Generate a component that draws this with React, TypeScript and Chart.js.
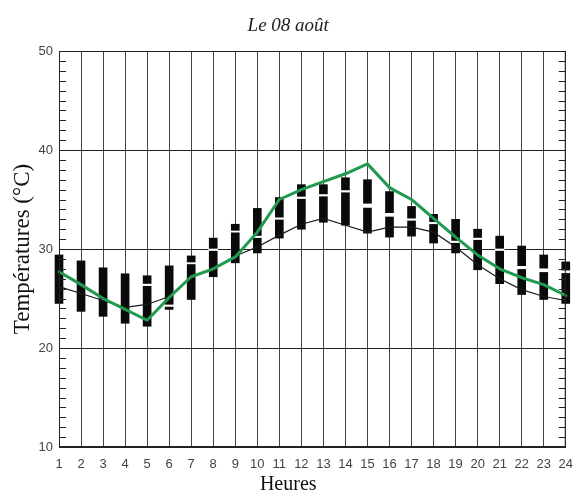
import { useEffect, useRef } from 'react';
import { Chart, registerables } from 'chart.js';

Chart.register(...registerables);

const hours = ['1', '2', '3', '4', '5', '6', '7', '8', '9', '10', '11', '12', '13', '14', '15', '16', '17', '18', '19', '20', '21', '22', '23', '24'];
const ensembleMin = [24.5, 23.7, 23.2, 22.5, 22.2, 23.9, 24.9, 27.2, 28.6, 29.6, 31.1, 32.0, 32.7, 32.4, 31.6, 31.2, 31.3, 30.6, 29.6, 27.9, 26.5, 25.4, 24.9, 24.5];
const ensembleMax = [29.4, 28.8, 28.1, 27.5, 27.3, 28.3, 29.3, 31.1, 32.5, 34.1, 35.2, 36.5, 36.5, 37.2, 37.0, 35.8, 34.3, 33.5, 33.0, 32.0, 31.3, 30.3, 29.4, 28.7];
const gapLow = [null, null, null, null, 26.3, 24.2, 28.5, 29.85, 31.7, 31.15, 33.0, 35.1, 35.35, 35.75, 34.2, 33.3, 32.9, 32.55, 30.65, 30.95, 29.85, 28.0, 27.7, 27.6];
const gapHigh = [null, null, null, null, 26.45, 24.35, 28.62, 30.0, 31.82, 31.3, 33.15, 35.25, 35.5, 35.9, 34.55, 33.6, 33.05, 32.7, 30.8, 31.1, 30.0, 28.25, 28.0, 27.8];
const observed = [26.2, 25.5, 24.8, 24.1, 24.4, 25.2, 27.2, 27.9, 29.3, 30.2, 31.4, 32.5, 33.1, 32.4, 31.7, 32.2, 32.2, 31.7, 30.2, 28.4, 27.0, 25.9, 25.2, 24.8];
const forecast = [27.7, 26.4, 25.0, 23.9, 22.8, 25.1, 27.2, 28.0, 29.2, 31.7, 35.0, 36.0, 36.8, 37.6, 38.6, 36.2, 35.0, 33.1, 31.2, 29.4, 28.0, 27.1, 26.4, 25.3];
const yMajorTicks = [10, 20, 30, 40, 50];

const framePlugin = {
  id: 'framePlugin',
  afterDraw(chart: any) {
    const { ctx, chartArea } = chart;
    const y = chart.scales.y;
    ctx.save();
    ctx.strokeStyle = '#222';
    ctx.lineWidth = 1;
    ctx.beginPath();
    for (let v = y.min; v <= y.max; v += 1) {
      const py = Math.round(y.getPixelForValue(v)) + 0.5;
      ctx.moveTo(chartArea.left, py);
      ctx.lineTo(chartArea.left + 7, py);
      ctx.moveTo(chartArea.right - 7, py);
      ctx.lineTo(chartArea.right, py);
    }
    ctx.stroke();
    ctx.strokeRect(chartArea.left + 0.5, chartArea.top + 0.5, chartArea.right - chartArea.left - 1, chartArea.bottom - chartArea.top - 1);
    ctx.restore();
  },
};

export default function App() {
  const ref = useRef<HTMLCanvasElement>(null);
  useEffect(() => {
    if (!ref.current) return;
    const chart = new Chart(ref.current, {
      type: 'bar',
      data: {
        labels: hours,
        datasets: [
          {
            type: 'line',
            label: 'Observé',
            data: observed,
            borderColor: '#1a1a1a',
            borderWidth: 1.2,
            pointRadius: 0,
            tension: 0,
            order: 1,
            clip: false,
          } as any,
          {
            type: 'line',
            label: 'Prévision',
            data: forecast,
            borderColor: '#1f9a4e',
            borderWidth: 3,
            borderJoinStyle: 'round',
            borderCapStyle: 'round',
            pointRadius: 0,
            tension: 0,
            order: 0,
            clip: false,
          } as any,
          {
            type: 'bar',
            label: 'Écarts',
            data: hours.map((_, i) => (gapLow[i] == null ? null : [gapLow[i], gapHigh[i]])),
            backgroundColor: '#ffffff',
            barThickness: 9,
            grouped: false,
            order: 2,
            clip: false,
          } as any,
          {
            type: 'bar',
            label: 'Ensemble',
            data: hours.map((_, i) => [ensembleMin[i], ensembleMax[i]]),
            backgroundColor: '#0a0a0a',
            barThickness: 8,
            grouped: false,
            order: 3,
            clip: false,
          } as any,
        ],
      },
      options: {
        animation: false,
        responsive: true,
        maintainAspectRatio: false,
        layout: { padding: { left: 0, right: 6.5, top: 0, bottom: 0 } },
        plugins: {
          legend: { display: false },
          tooltip: { enabled: false },
          title: {
            display: true,
            text: 'Le 08 août',
            color: '#222',
            font: { family: '"Liberation Serif", serif', size: 19, style: 'italic', weight: 'normal' },
            padding: { top: 15, bottom: 13.2 },
          },
          subtitle: {
            display: true,
            position: 'bottom',
            text: 'Heures',
            color: '#111',
            font: { family: '"Liberation Serif", serif', size: 20, weight: 'normal' },
            padding: { top: 2, bottom: 0 },
          },
        },
        scales: {
          x: {
            type: 'category',
            offset: false,
            grid: { offset: false, color: '#444', lineWidth: 1, drawTicks: false },
            border: { display: true, color: '#222' },
            ticks: {
              color: '#444',
              font: { family: '"Liberation Sans", Arial, sans-serif', size: 13 },
              padding: 10,
              maxRotation: 0,
              autoSkip: false,
            },
            afterFit: (s: any) => {
              s.height = 24;
            },
          },
          y: {
            min: 10,
            max: 50,
            ticks: {
              stepSize: 1,
              autoSkip: false,
              color: '#444',
              font: { family: '"Liberation Sans", Arial, sans-serif', size: 13 },
              padding: 6,
              callback: (v: any) => (yMajorTicks.includes(Number(v)) ? String(v) : ''),
            },
            grid: {
              drawTicks: false,
              color: (c: any) => (c.tick && Number(c.tick.value) % 10 === 0 ? '#222' : 'rgba(0,0,0,0)'),
              lineWidth: 1,
            },
            border: { display: true, color: '#222' },
            title: {
              display: true,
              text: 'Températures (°C)',
              color: '#111',
              font: { family: '"Liberation Serif", serif', size: 23 },
              padding: { top: 9, bottom: 0 },
            },
            afterFit: (s: any) => {
              s.width = 59;
            },
          },
        },
      },
      plugins: [framePlugin],
    });
    return () => chart.destroy();
  }, []);

  return (
    <div style={{ position: 'absolute', left: 0, top: 0, width: 583, height: 497, background: '#fff' }}>
      <canvas ref={ref} />
    </div>
  );
}
